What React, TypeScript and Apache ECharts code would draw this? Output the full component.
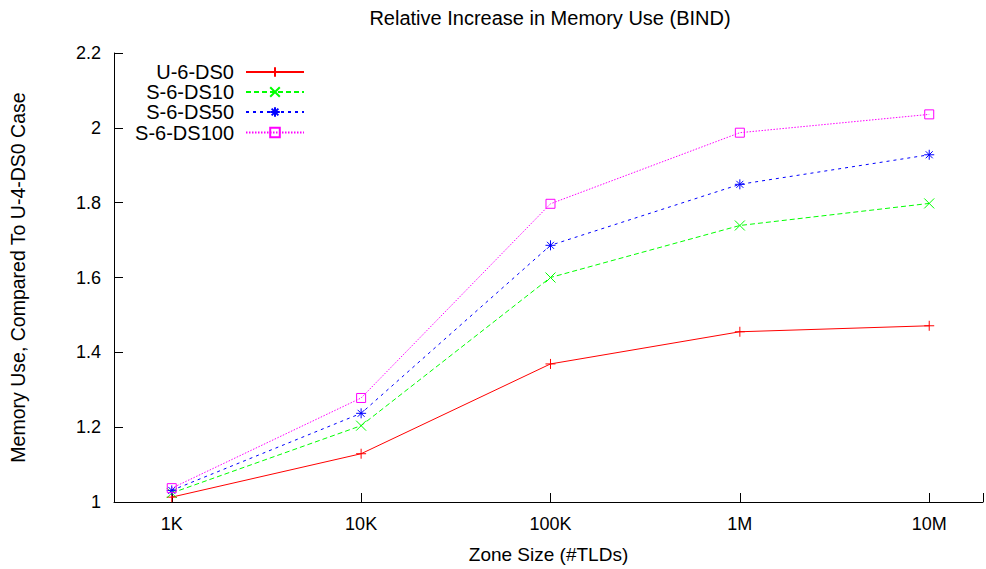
import React, { useEffect, useRef } from "react";
import * as echarts from "echarts";

const categories = ["1K", "10K", "100K", "1M", "10M"];
const seriesNames = ["U-6-DS0", "S-6-DS10", "S-6-DS50", "S-6-DS100"];
const u6ds0 = [1.013, 1.129, 1.369, 1.455, 1.471];
const s6ds10 = [1.024, 1.204, 1.6, 1.739, 1.798];
const s6ds50 = [1.031, 1.237, 1.686, 1.849, 1.928];
const s6ds100 = [1.037, 1.278, 1.797, 1.987, 2.036];
const yTicks = { min: 1, max: 2.2, interval: 0.2 };

const FONT = "Liberation Sans";
const SYM_PLUS = "path://M5,0 L5,10 M0,5 L10,5";
const SYM_X = "path://M0,0 L10,10 M0,10 L10,0";
const SYM_STAR = "path://M5,0 L5,10 M0,5 L10,5 M1.5,1.5 L8.5,8.5 M1.5,8.5 L8.5,1.5";
const SYM_SQ = "path://M0,0 L10,0 L10,10 L0,10 Z";

export default function App() {
  const ref = useRef<HTMLDivElement>(null);
  useEffect(() => {
    if (!ref.current) return;
    const chart = echarts.init(ref.current, undefined, { renderer: "svg" });
    const values = [u6ds0, s6ds10, s6ds50, s6ds100];
    const colors = ["#ff0000", "#00ff00", "#0000ff", "#ff00ff"];
    const dashes: any[] = ["solid", [5, 3], [3, 4], [1.5, 1.5]];
    const symbols = [SYM_PLUS, SYM_X, SYM_STAR, SYM_SQ];
    const sizes = [10, 10, 10, 9];
    const legendTops = [62, 82, 102, 122.5];

    const series = seriesNames.map((name, i) => ({
      name,
      type: "line",
      data: values[i].map((v, j) => [j, v]),
      symbol: symbols[i],
      symbolSize: sizes[i],
      lineStyle: { color: colors[i], width: 1, type: dashes[i] },
      itemStyle: {
        color: i === 3 ? "rgba(0,0,0,0)" : colors[i],
        borderColor: colors[i],
        borderWidth: 1,
      },
      emphasis: { disabled: true },
      silent: true,
      z: 2 + i,
    }));

    const legends = seriesNames.map((name, i) => ({
      data: [name],
      orient: "vertical",
      right: 681,
      top: legendTops[i],
      padding: 0,
      align: "right",
      itemWidth: 58,
      itemHeight: 12,
      selectedMode: false,
      textStyle: { fontFamily: FONT, fontSize: 20, color: "#000", padding: [0, 7, 0, 0] },
    }));

    chart.setOption({
      animation: false,
      backgroundColor: "#fff",
      textStyle: { fontFamily: FONT },
      title: {
        text: "Relative Increase in Memory Use (BIND)",
        left: 550,
        textAlign: "center",
        top: 8,
        padding: 0,
        textStyle: { fontFamily: FONT, fontSize: 20, fontWeight: "normal", color: "#000" },
      },
      legend: legends,
      grid: { left: 114, right: 0, top: 53, bottom: 66, containLabel: false },
      xAxis: {
        type: "value",
        min: -0.305,
        max: 4.284,
        minInterval: 1,
        maxInterval: 1,
        name: "Zone Size (#TLDs)",
        nameLocation: "middle",
        nameGap: 43,
        nameTextStyle: { fontFamily: FONT, fontSize: 19, color: "#000" },
        axisLine: { onZero: false, lineStyle: { color: "#000", width: 1 } },
        axisTick: { inside: true, length: 9, lineStyle: { color: "#000" } },
        axisLabel: {
          margin: 13,
          fontFamily: FONT,
          fontSize: 18,
          color: "#000",
          formatter: (v: number) => (Number.isInteger(v) && categories[v] ? categories[v] : ""),
        },
        splitLine: { show: false },
      },
      yAxis: {
        type: "value",
        min: yTicks.min,
        max: yTicks.max,
        interval: yTicks.interval,
        name: "Memory Use, Compared To U-4-DS0 Case",
        nameLocation: "middle",
        nameGap: 86,
        nameTextStyle: { fontFamily: FONT, fontSize: 19.5, color: "#000" },
        axisLine: { show: true, onZero: false, lineStyle: { color: "#000", width: 1 } },
        axisTick: { show: true, inside: true, length: 9, lineStyle: { color: "#000" } },
        axisLabel: { margin: 13, fontFamily: FONT, fontSize: 18, color: "#000" },
        splitLine: { show: false },
      },
      series,
    });
    return () => chart.dispose();
  }, []);
  return (
    <div
      ref={ref}
      style={{ position: "fixed", left: 0, top: 0, width: 986, height: 569, background: "#fff" }}
    />
  );
}
